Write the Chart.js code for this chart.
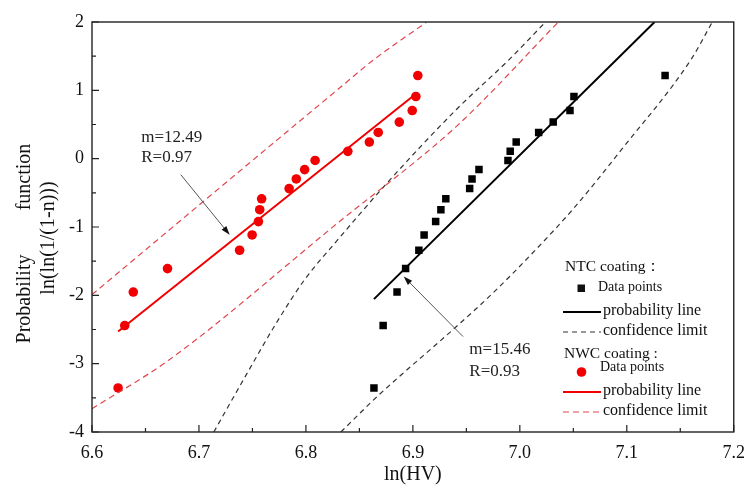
<!DOCTYPE html>
<html><head><meta charset="utf-8">
<script src="https://cdn.jsdelivr.net/npm/chart.js@4/dist/chart.umd.min.js"></script>
<style>html,body{margin:0;padding:0;background:#fff}#wrap{width:755px;height:495px}</style>
</head><body><div id="wrap"><canvas id="c" width="755" height="495"></canvas></div>
<script>
// ---- data ----
const nwcLnHV = [6.6244,6.6306,6.6386,6.6706,6.7380,6.7497,6.7556,6.7568,6.7586,6.7843,6.7910,6.7988,6.8086,6.8392,6.8593,6.8676,6.8873,6.8994,6.9028,6.9046];
const nwcProb = [-3.355,-2.442,-1.952,-1.609,-1.340,-1.116,-0.921,-0.747,-0.587,-0.438,-0.297,-0.160,-0.026,0.107,0.243,0.384,0.535,0.704,0.910,1.216];
const ntcLnHV = [6.8636,6.8722,6.8852,6.8932,6.9056,6.9105,6.9213,6.9262,6.9308,6.9531,6.9553,6.9618,6.9889,6.9910,6.9966,7.0176,7.0312,7.0469,7.0506,7.1358];
const ntcProb = [-3.355,-2.442,-1.952,-1.609,-1.340,-1.116,-0.921,-0.747,-0.587,-0.438,-0.297,-0.160,-0.026,0.107,0.243,0.384,0.535,0.704,0.910,1.216];
// fitted probability lines (end points)
const nwcLineX = [6.6244, 6.9000];
const nwcLineY = [-2.530, 0.913];
const ntcLineX = [6.8636, 7.1260];
const ntcLineY = [-2.056, 2.000];
// confidence limits
const nwcUpperX = [6.6000, 6.7000, 6.8296, 6.8636, 6.9130];
const nwcUpperY = [-1.99, -0.68, 1.01, 1.45, 2.00];
const nwcLowerX = [6.6000, 6.6720, 6.8296, 6.9407, 7.0360];
const nwcLowerY = [-3.66, -2.945, -0.943, 0.473, 2.00];
const ntcUpperX = [6.7139, 6.7432, 6.7741, 6.7988, 6.8296, 6.8759, 6.9407, 6.9900, 7.0240];
const ntcUpperY = [-4.00, -3.19, -2.36, -1.77, -1.19, -0.356, 0.72, 1.45, 2.00];
const ntcLowerX = [6.8327, 6.8667, 6.9407, 6.9747, 7.0148, 7.0519, 7.0950, 7.1600, 7.1800];
const ntcLowerY = [-4.00, -3.48, -2.457, -1.968, -1.333, -0.699, 0.132, 1.45, 2.00];
// axis ticks
const xTicks = [6.6,6.7,6.8,6.9,7.0,7.1,7.2];
const yTicks = [-4,-3,-2,-1,0,1,2];
// annotations
const notes = [
  {lines:['m=12.49','R=0.97'], x:6.646, y:[0.31,0.01], from:[6.683,-0.234], to:[6.7287,-1.114]},
  {lines:['m=15.46','R=0.93'], x:6.9528, y:[-2.80,-3.11], from:[6.9469,-2.604], to:[6.8914,-1.725]}
];

const SERIF = '"Liberation Serif","Times New Roman",serif';
const pts = (xs, ys) => xs.map((x,i)=>({x, y: ys[i]}));

const dashed = (xs, ys, color, dash) => ({
  data: pts(xs, ys), showLine: true, pointRadius: 0, borderColor: color,
  borderWidth: 1.2, borderDash: dash, cubicInterpolationMode: 'monotone', fill: false
});

const datasets = [
  dashed(nwcUpperX, nwcUpperY, '#e0474c', [6,4]),
  dashed(nwcLowerX, nwcLowerY, '#e0474c', [6,4]),
  dashed(ntcUpperX, ntcUpperY, '#333333', [5,4]),
  dashed(ntcLowerX, ntcLowerY, '#333333', [5,4]),
  {data: pts(nwcLineX, nwcLineY), showLine:true, pointRadius:0, borderColor:'#f00000', borderWidth:2},
  {data: pts(ntcLineX, ntcLineY), showLine:true, pointRadius:0, borderColor:'#000', borderWidth:2},
  {data: pts(nwcLnHV, nwcProb), pointStyle:'circle', pointRadius:4.8, backgroundColor:'#f00000', borderColor:'#f00000', borderWidth:0},
  {data: pts(ntcLnHV, ntcProb), pointStyle:'rect', pointRadius:5.3, backgroundColor:'#000', borderColor:'#000', borderWidth:0}
];

const framePlugin = {
  id: 'frame',
  afterDraw(chart) {
    const {ctx, chartArea: a, scales: {x, y}} = chart;
    ctx.save();
    ctx.strokeStyle = '#222'; ctx.lineWidth = 1.4;
    ctx.strokeRect(a.left, a.top, a.right - a.left, a.bottom - a.top);
    ctx.lineWidth = 1.2;
    ctx.beginPath();
    for (let i = 0; i <= 12; i++) {
      const v = 6.6 + i * 0.05;
      const px = x.getPixelForValue(v);
      const len = i % 2 === 0 ? 7 : 4;
      ctx.moveTo(px, a.bottom); ctx.lineTo(px, a.bottom - len);
    }
    for (let i = 0; i <= 12; i++) {
      const v = -4 + i * 0.5;
      const py = y.getPixelForValue(v);
      const len = i % 2 === 0 ? 7 : 4;
      ctx.moveTo(a.left, py); ctx.lineTo(a.left + len, py);
    }
    ctx.stroke();

    // y axis title (two lines, rotated)
    ctx.save();
    ctx.fillStyle = '#111'; ctx.textBaseline = 'middle'; ctx.textAlign = 'center';
    ctx.font = '20px ' + SERIF;
    ctx.translate(25, 0); ctx.rotate(-Math.PI/2);
    ctx.fillText('Probability', -299, 0);
    ctx.fillText('function', -177, 0);
    ctx.restore();
    ctx.save();
    ctx.fillStyle = '#111'; ctx.textBaseline = 'middle'; ctx.textAlign = 'center';
    ctx.font = '20px ' + SERIF;
    ctx.translate(49, 0); ctx.rotate(-Math.PI/2);
    ctx.fillText('ln(ln(1/(1-n)))', -238, 0);
    ctx.restore();

    // annotations
    ctx.font = '17px ' + SERIF; ctx.fillStyle = '#222'; ctx.textBaseline = 'middle'; ctx.textAlign = 'left';
    notes.forEach(n => {
      n.lines.forEach((t, i) => ctx.fillText(t, x.getPixelForValue(n.x), y.getPixelForValue(n.y[i])));
      const x1 = x.getPixelForValue(n.from[0]), y1 = y.getPixelForValue(n.from[1]);
      const x2 = x.getPixelForValue(n.to[0]), y2 = y.getPixelForValue(n.to[1]);
      const ang = Math.atan2(y2 - y1, x2 - x1);
      ctx.strokeStyle = '#555'; ctx.lineWidth = 1;
      ctx.beginPath(); ctx.moveTo(x1, y1); ctx.lineTo(x2 - 6*Math.cos(ang), y2 - 6*Math.sin(ang)); ctx.stroke();
      ctx.fillStyle = '#111';
      ctx.beginPath();
      ctx.moveTo(x2, y2);
      ctx.lineTo(x2 - 9*Math.cos(ang) + 3*Math.sin(ang), y2 - 9*Math.sin(ang) - 3*Math.cos(ang));
      ctx.lineTo(x2 - 9*Math.cos(ang) - 3*Math.sin(ang), y2 - 9*Math.sin(ang) + 3*Math.cos(ang));
      ctx.closePath(); ctx.fill();
      ctx.fillStyle = '#222';
    });

    // legend
    const L = 563, R = 601, T = 603;
    ctx.fillStyle = '#111'; ctx.textBaseline = 'middle';
    ctx.font = '15.5px ' + SERIF;
    ctx.fillText('NTC coating\uFF1A', 565, 267);
    ctx.font = '14px ' + SERIF;
    ctx.fillText('Data points', 598, 287);
    ctx.fillRect(577.5, 284.5, 7.5, 7.5);
    ctx.font = '16px ' + SERIF;
    ctx.fillText('probability line', T, 311);
    ctx.fillText('confidence limit', T, 331);
    ctx.strokeStyle = '#000'; ctx.lineWidth = 2; ctx.setLineDash([]);
    ctx.beginPath(); ctx.moveTo(L, 312); ctx.lineTo(R, 312); ctx.stroke();
    ctx.strokeStyle = '#333'; ctx.lineWidth = 1.2; ctx.setLineDash([5,4]);
    ctx.beginPath(); ctx.moveTo(L, 332); ctx.lineTo(R, 332); ctx.stroke();
    ctx.setLineDash([]);
    ctx.font = '15.5px ' + SERIF;
    ctx.fillText('NWC coating :', 564, 354);
    ctx.font = '14px ' + SERIF;
    ctx.fillText('Data points', 600, 367);
    ctx.fillStyle = '#f00000';
    ctx.beginPath(); ctx.arc(581.5, 372, 4.8, 0, Math.PI*2); ctx.fill();
    ctx.fillStyle = '#111';
    ctx.font = '16px ' + SERIF;
    ctx.fillText('probability line', T, 391);
    ctx.fillText('confidence limit', T, 411);
    ctx.strokeStyle = '#f00000'; ctx.lineWidth = 2;
    ctx.beginPath(); ctx.moveTo(L, 392); ctx.lineTo(R, 392); ctx.stroke();
    ctx.strokeStyle = '#e0474c'; ctx.lineWidth = 1.2; ctx.setLineDash([6,4]);
    ctx.beginPath(); ctx.moveTo(L, 412); ctx.lineTo(R, 412); ctx.stroke();
    ctx.restore();
  }
};

new Chart(document.getElementById('c'), {
  type: 'scatter',
  data: { datasets },
  options: {
    responsive: false, animation: false, devicePixelRatio: 1,
    layout: { padding: { top: 22, right: 15, left: 0, bottom: 0 } },
    plugins: { legend: { display: false }, tooltip: { enabled: false } },
    scales: {
      x: {
        type: 'linear', min: 6.6, max: 7.2,
        afterBuildTicks: s => { s.ticks = xTicks.map(v => ({value: v})); },
        afterFit: s => { s.height = 63; },
        grid: { display: false, drawTicks: false }, border: { display: false },
        ticks: { padding: 10, color: '#111', font: { family: SERIF, size: 18 }, callback: v => Number(v).toFixed(1) },
        title: { display: true, text: 'ln(HV)', color: '#111', font: { family: SERIF, size: 20 }, padding: { top: 0, bottom: 8 } }
      },
      y: {
        type: 'linear', min: -4, max: 2,
        afterBuildTicks: s => { s.ticks = yTicks.map(v => ({value: v})); },
        afterFit: s => { s.width = 92; },
        grid: { display: false, drawTicks: false }, border: { display: false },
        ticks: { padding: 8, color: '#111', font: { family: SERIF, size: 18 }, callback: v => String(v) },
        title: { display: false }
      }
    }
  },
  plugins: [framePlugin]
});
</script>
</body></html>
